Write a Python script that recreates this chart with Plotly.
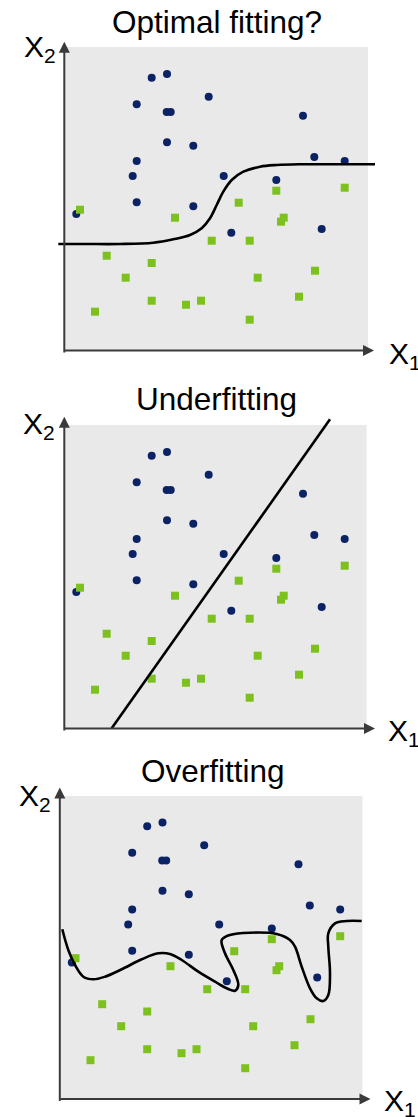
import plotly.graph_objects as go

W, H = 418, 1117

# ---- data (shared by the three panels) ----
blue_x = [86.7, 102, 71.7, 101.7, 105.7, 143.7, 238, 102, 128.3, 71.7,
          249.3, 279.7, 67.7, 158.7, 211.3, 71.7, 128.3, 11.3, 166.3, 256.7]
blue_y = [272.3, 276, 245.7, 238, 238, 253.3, 234.3, 207.7, 204.3, 189,
          193, 189, 174, 174, 170, 147.7, 143.7, 136, 117.3, 121]

green_x = [15, 211.3, 279.7, 173.7, 110, 218.7, 216, 146.7, 184.7, 41.7,
           86.7, 60.7, 192.7, 250, 234, 86.7, 121, 136, 30, 184.7]
green_y = [140.3, 159.3, 162.3, 147.3, 132.3, 132.3, 128.3, 109.3, 109.3, 94.3,
           87, 72.3, 72.3, 79.3, 53.3, 49.3, 45.3, 49.3, 38.3, 30.3]

# decision boundaries
optimal_x = [-6.7, 20, 55, 88.3, 108.3, 125, 136.7, 145, 151.7, 158.3, 166.7,
             178.3, 195, 211.7, 235, 270, 310]
optimal_y = [106, 106, 106, 107.3, 110.7, 115, 121.7, 131.7, 145, 158.3, 170,
             178.3, 183.3, 185, 185.7, 185.7, 185.7]

under_x = [46.7, 265]
under_y = [-0.3, 308.7]

over_x = [1.8, 7.8, 14.5, 22.8, 32.8, 44.5, 61.2, 81.2, 97.8, 109.5, 121.2,
          137.8, 154.5, 167.8, 174.5, 177.8, 172.8, 164.5, 161.2, 169.5, 189.5,
          216.2, 229.5, 234.5, 241.2, 249.5, 256.2, 262.8, 267.8, 269.5, 267.8,
          267.8, 274.5, 286.2, 301.2]
over_y = [169.2, 148.5, 133.5, 121.8, 119.2, 121.8, 129.2, 139.2, 145.2, 144.5,
          138.5, 126.8, 116.8, 109.5, 107.8, 113.5, 128.5, 145.2, 158.5, 163.5,
          165.8, 164.5, 158.5, 151.8, 131.8, 110.2, 100.2, 97.5, 103.5, 125.2,
          151.8, 165.2, 175.2, 177.5, 177.5]

titles = ["Optimal fitting?", "Underfitting", "Overfitting"]
y_label = "X<sub>2</sub>"
x_label = "X<sub>1</sub>"
boundaries = [(optimal_x, optimal_y, "spline"),
              (under_x, under_y, "linear"),
              (over_x, over_y, "spline")]

# ---- panel geometry (pixels) ----
panels = [
    dict(ox=65, oy=350, top=0, bottom=370, bw=303, bh=303, ytip=308.3, xtip=309,
         tx=217, ty=22, x2=(21.5, 49), x1=(387, 355)),
    dict(ox=65, oy=728, top=370, bottom=750, bw=301.7, bh=303, ytip=311.3, xtip=310,
         tx=216.7, ty=399, x2=(20.5, 425.5), x1=(385.5, 732)),
    dict(ox=60.5, oy=1098.5, top=750, bottom=H, bw=302, bh=302.5, ytip=311, xtip=310,
         tx=213.3, ty=770.5, x2=(17, 797), x1=(382, 1102)),
]

BLUE = "#0b2265"
GREEN = "#7dc11f"
BOX = "#e9e9e9"
AXIS = "#3a3a3a"
FONT = "Liberation Sans, Arial, Helvetica, sans-serif"

fig = go.Figure()
shapes = []
annotations = []
layout_axes = {}


def label(px, py, text, size, anchor):
    return dict(xref="paper", yref="paper", x=px / W, y=1 - py / H,
                xanchor=anchor, yanchor="middle", text=text, showarrow=False,
                font=dict(family=FONT, size=size, color="black"))


for i, p in enumerate(panels):
    n = "" if i == 0 else str(i + 1)
    xa, ya = "x" + n, "y" + n
    # axes map pixels 1:1
    layout_axes["xaxis" + n] = dict(range=[-p["ox"], W - p["ox"]], domain=[0, 1],
                                    visible=False, fixedrange=True, anchor=ya)
    layout_axes["yaxis" + n] = dict(range=[p["oy"] - p["bottom"], p["oy"] - p["top"]],
                                    domain=[1 - p["bottom"] / H, 1 - p["top"] / H],
                                    visible=False, fixedrange=True, anchor=xa)
    shapes.append(dict(type="rect", xref=xa, yref=ya, x0=0, y0=0, x1=p["bw"], y1=p["bh"],
                       fillcolor=BOX, line=dict(width=0), layer="below"))

    fig.add_trace(go.Scatter(x=blue_x, y=blue_y, mode="markers", xaxis=xa, yaxis=ya,
                             marker=dict(symbol="circle", size=8, color=BLUE, line=dict(width=0)),
                             showlegend=False, hoverinfo="skip"))
    fig.add_trace(go.Scatter(x=green_x, y=green_y, mode="markers", xaxis=xa, yaxis=ya,
                             marker=dict(symbol="square", size=8, color=GREEN, line=dict(width=0)),
                             showlegend=False, hoverinfo="skip"))
    bx, by, shp = boundaries[i]
    fig.add_trace(go.Scatter(x=bx, y=by, mode="lines", xaxis=xa, yaxis=ya,
                             line=dict(color="black", width=2.6, shape=shp, smoothing=1.0),
                             showlegend=False, hoverinfo="skip", cliponaxis=False))

    # axis arrows
    annotations.append(dict(xref=xa, yref=ya, axref=xa, ayref=ya, x=-0.7, y=p["ytip"],
                            ax=-0.7, ay=-4, text="", showarrow=True, arrowhead=2,
                            arrowsize=1.1, arrowwidth=2, arrowcolor=AXIS, standoff=0))
    annotations.append(dict(xref=xa, yref=ya, axref=xa, ayref=ya, x=p["xtip"], y=-0.5,
                            ax=-1.7, ay=-0.5, text="", showarrow=True, arrowhead=2,
                            arrowsize=1.1, arrowwidth=2, arrowcolor=AXIS, standoff=0))
    # title
    annotations.append(label(p["tx"], p["ty"], titles[i], 31.5, "center"))
    # axis labels
    annotations.append(label(p["x2"][0], p["x2"][1], y_label, 30, "left"))
    annotations.append(label(p["x1"][0], p["x1"][1], x_label, 30, "left"))

fig.update_layout(width=W, height=H, margin=dict(l=0, r=0, t=0, b=0),
                  paper_bgcolor="white", plot_bgcolor="rgba(0,0,0,0)",
                  shapes=shapes, annotations=annotations, **layout_axes)

fig.write_html("out.html", config=dict(displayModeBar=False),
               post_script="document.body.style.margin='0';document.body.style.padding='0';")
